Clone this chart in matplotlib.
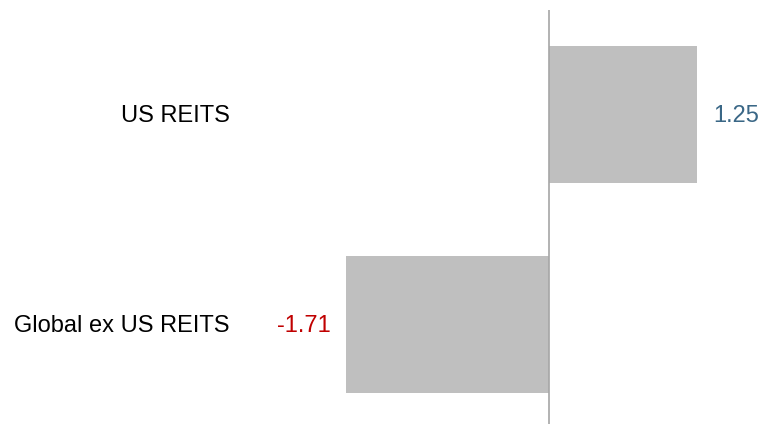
import matplotlib.pyplot as plt

plt.rcParams['font.family'] = ['Liberation Sans', 'DejaVu Sans']

# REIT category contributions
categories = ['Global ex US REITS', 'US REITS']
values = [-1.71, 1.25]

W, H = 773, 424
fig = plt.figure(figsize=(W / 100, H / 100), dpi=100)

# axes fill the figure below a small top margin; zero sits at x=549px
scale = 118.5  # pixels per unit
x0 = 549
ax = fig.add_axes([0, 0, 1, (H - 10) / H])
ax.set_xlim(-x0 / scale, (W - x0) / scale)
ax.set_ylim(-0.474, 1.4976)

ypos = list(range(len(categories)))
ax.barh(ypos, values, height=0.652, color='#bfbfbf', zorder=2)
ax.axvline(0, color='#a6a6a6', lw=1.2, zorder=3)

fs = 17
label_x = (230 - x0) / scale
dy = -2 / 210  # nudge text down a touch
for y, cat, v in zip(ypos, categories, values):
    ax.text(label_x, y + dy, cat, ha='right', va='center', fontsize=fs, color='black')
    off = 16 / scale
    if v >= 0:
        ax.text(v + off, y + dy, f'{v:.2f}', ha='left', va='center', fontsize=fs, color='#3a6786')
    else:
        ax.text(v - off, y + dy, f'{v:.2f}', ha='right', va='center', fontsize=fs, color='#c00000')

ax.axis('off')
fig.savefig('out.png', dpi=100)
